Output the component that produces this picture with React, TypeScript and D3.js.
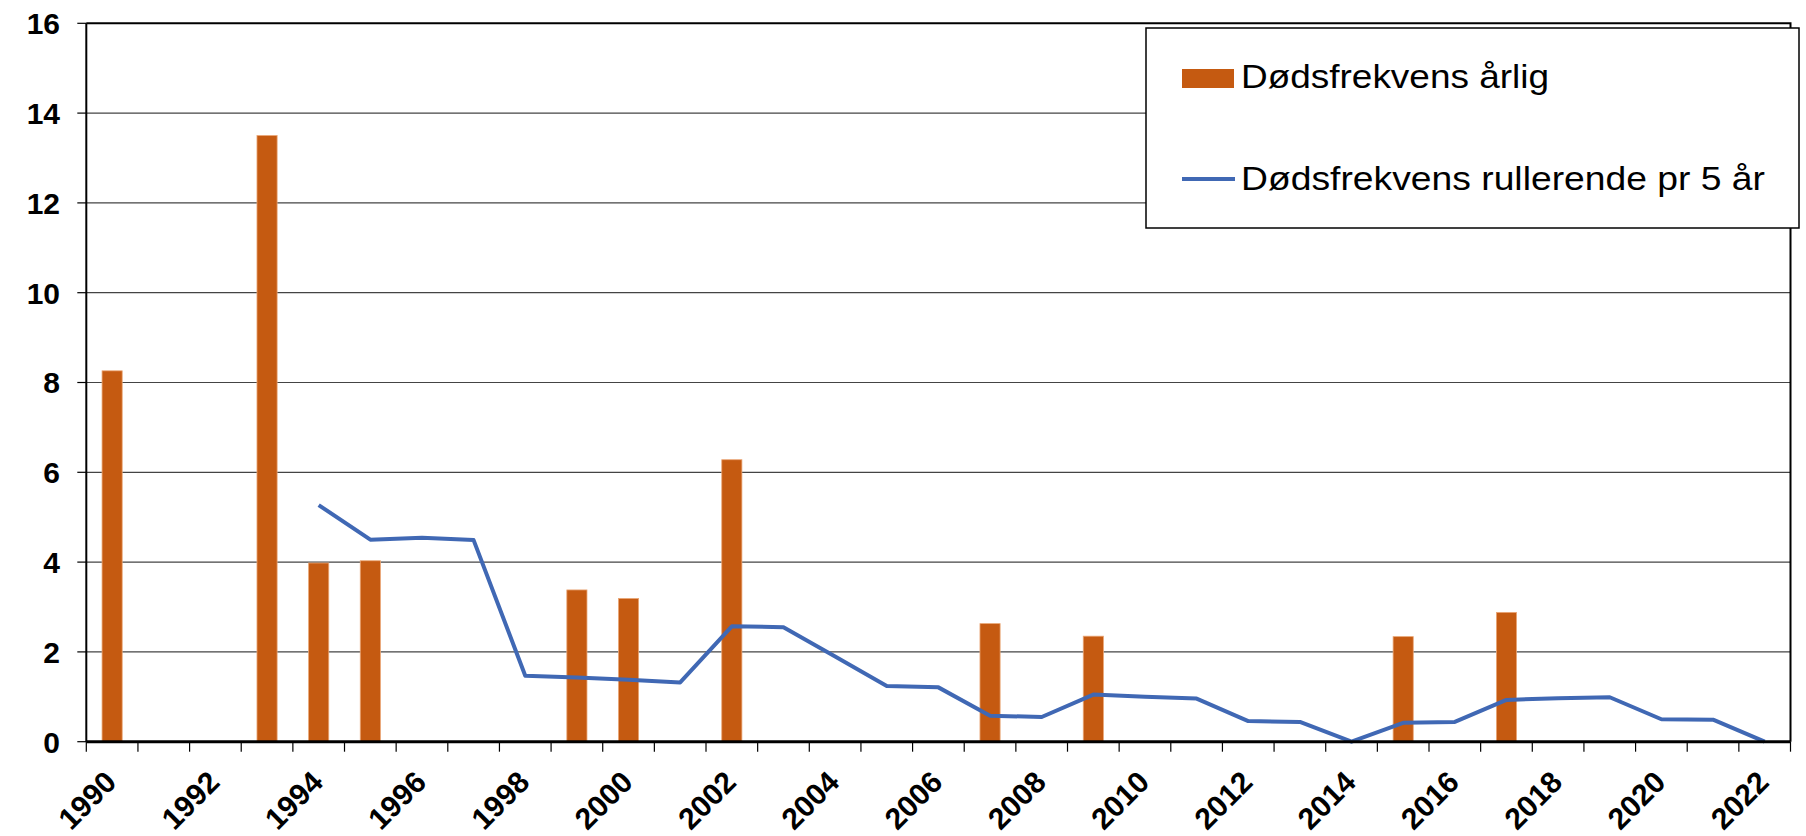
import React, { useEffect, useRef } from 'react';
import * as d3 from 'd3';

const years = d3.range(1990, 2023).map(String);
// Dødsfrekvens per år (0 = ingen dødsfall)
const yearly = [8.26, 0, 0, 13.5, 3.98, 4.03, 0, 0, 0, 3.38, 3.19, 0, 6.28, 0, 0, 0, 0, 2.63, 0, 2.35, 0, 0, 0, 0, 0, 2.34, 0, 2.88, 0, 0, 0, 0, 0];
// rullerende 5 år, fra 1994
const rollingYears = d3.range(1994, 2023).map(String);
const rolling = [5.27, 4.5, 4.54, 4.49, 1.47, 1.43, 1.38, 1.32, 2.57, 2.55, 1.9, 1.24, 1.21, 0.58, 0.55, 1.05, 1.0, 0.96, 0.46, 0.44, 0, 0.42, 0.44, 0.93, 0.97, 0.99, 0.5, 0.49, 0];
const yTicks = [0, 2, 4, 6, 8, 10, 12, 14, 16];
const labelYears = years.filter((d, i) => i % 2 === 0);
const legendLabels = ['Dødsfrekvens årlig', 'Dødsfrekvens rullerende pr 5 år'];

const barColor = '#C55A11';
const lineColor = '#4068B4';
const font = '"Liberation Sans", Arial, sans-serif';

export default function App() {
  const ref = useRef<SVGSVGElement>(null);

  useEffect(() => {
    const width = 1806;
    const height = 836;
    const left = 86.3, right = 1790.5, top = 23.3, bottom = 741.7;

    const svg = d3.select(ref.current);
    svg.selectAll('*').remove();
    svg.attr('width', width).attr('height', height);

    const x = d3.scaleBand().domain(years).range([left, right]).padding(0);
    const y = d3.scaleLinear().domain([0, 16]).range([bottom, top]);
    const bw = x.bandwidth();

    // gridlines
    svg.append('g')
      .selectAll('line')
      .data(yTicks.filter(d => d > 0 && d < 16))
      .enter()
      .append('line')
      .attr('x1', left).attr('x2', right)
      .attr('y1', d => y(d)).attr('y2', d => y(d))
      .attr('stroke', '#444').attr('stroke-width', 1.2);

    // bars
    svg.append('g')
      .selectAll('rect')
      .data(years.map((yr, i) => ({ yr, v: yearly[i] })).filter(d => d.v > 0))
      .enter()
      .append('rect')
      .attr('x', d => x(d.yr)! + bw * 0.305)
      .attr('width', bw * 0.39)
      .attr('y', d => y(d.v))
      .attr('height', d => bottom - y(d.v))
      .attr('fill', barColor)
      .attr('stroke', '#EAA675')
      .attr('stroke-width', 0.8);

    // rolling line
    const line = d3.line<number>()
      .x((d, i) => x(rollingYears[i])! + bw / 2)
      .y(d => y(d));
    svg.append('path')
      .datum(rolling)
      .attr('d', line)
      .attr('fill', 'none')
      .attr('stroke', lineColor)
      .attr('stroke-width', 4)
      .attr('stroke-linejoin', 'round');

    // plot border top/right
    svg.append('path')
      .attr('d', `M${left},${top}H${right}V${bottom}`)
      .attr('fill', 'none').attr('stroke', '#000').attr('stroke-width', 2);

    // y axis
    svg.append('line')
      .attr('x1', left).attr('x2', left).attr('y1', top).attr('y2', bottom)
      .attr('stroke', '#000').attr('stroke-width', 2);
    const yg = svg.append('g');
    yg.selectAll('line')
      .data(yTicks).enter().append('line')
      .attr('x1', left - 9).attr('x2', left)
      .attr('y1', d => y(d)).attr('y2', d => y(d))
      .attr('stroke', '#000').attr('stroke-width', 1.2);
    yg.selectAll('text')
      .data(yTicks).enter().append('text')
      .attr('x', 60).attr('y', d => y(d))
      .attr('dy', '0.36em')
      .attr('text-anchor', 'end')
      .attr('font-family', font).attr('font-weight', 'bold').attr('font-size', 30)
      .text(d => d);

    // x axis
    svg.append('line')
      .attr('x1', left).attr('x2', right).attr('y1', bottom).attr('y2', bottom)
      .attr('stroke', '#000').attr('stroke-width', 3);
    const xg = svg.append('g');
    xg.selectAll('line')
      .data([...years.map(d => x(d)!), right]).enter().append('line')
      .attr('x1', d => d).attr('x2', d => d)
      .attr('y1', bottom).attr('y2', bottom + 10)
      .attr('stroke', '#000').attr('stroke-width', 1.2);
    xg.selectAll('text')
      .data(labelYears).enter().append('text')
      .attr('transform', d => `translate(${x(d)! + bw / 2 + 6},784) rotate(-45)`)
      .attr('text-anchor', 'end')
      .attr('font-family', font).attr('font-weight', 'bold').attr('font-size', 30)
      .text(d => d);

    // legend
    const lg = svg.append('g');
    lg.append('rect')
      .attr('x', 1146).attr('y', 28).attr('width', 653).attr('height', 200)
      .attr('fill', '#fff').attr('stroke', '#000').attr('stroke-width', 1.5);
    lg.append('rect')
      .attr('x', 1182).attr('y', 69).attr('width', 52).attr('height', 19)
      .attr('fill', barColor);
    lg.append('line')
      .attr('x1', 1182).attr('x2', 1235).attr('y1', 179).attr('y2', 179)
      .attr('stroke', lineColor).attr('stroke-width', 4);
    lg.selectAll('text')
      .data(legendLabels).enter().append('text')
      .attr('x', 1241)
      .attr('y', (d, i) => (i === 0 ? 88 : 190))
      .attr('font-family', font).attr('font-size', 34)
      .attr('textLength', (d, i) => (i === 0 ? 308 : 524))
      .attr('lengthAdjust', 'spacingAndGlyphs')
      .text(d => d);
  }, []);

  return (
    <div style={{ position: 'absolute', left: 0, top: 0, background: '#fff' }}>
      <svg ref={ref} style={{ display: 'block' }}></svg>
    </div>
  );
}
